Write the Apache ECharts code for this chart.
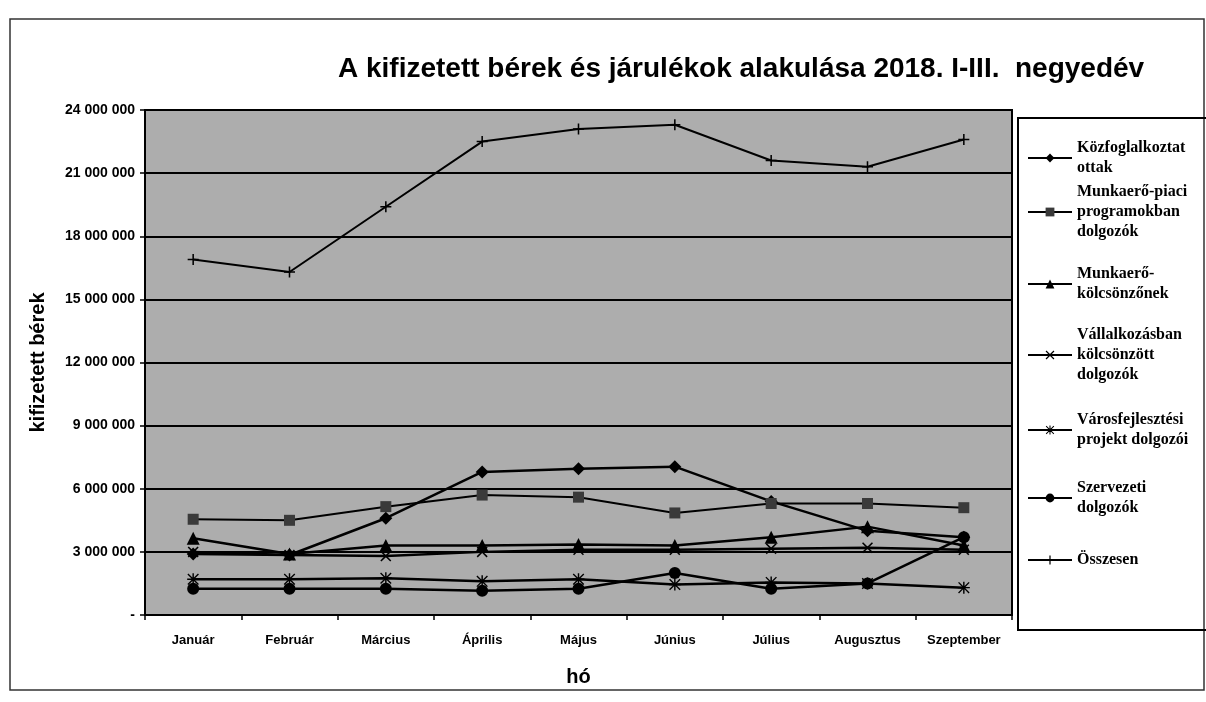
<!DOCTYPE html>
<html>
<head>
<meta charset="utf-8">
<title>Bérek és járulékok 2018</title>
<script src="https://cdn.jsdelivr.net/npm/echarts@6/dist/echarts.min.js"></script>
<style>
  html, body { margin: 0; padding: 0; background: #fff; }
  #chart { width: 1206px; height: 702px; }
</style>
</head>
<body>
<div id="chart"></div>
<script>
// --- adatok ---
const months = ['Január', 'Február', 'Március', 'Április', 'Május', 'Június', 'Július', 'Augusztus', 'Szeptember']

const kozfoglalkoztatottak = [2900000, 2850000, 4600000, 6800000, 6950000, 7050000, 5400000, 4000000, 3700000]
const munkaeroPiaci = [4550000, 4500000, 5150000, 5700000, 5600000, 4850000, 5300000, 5300000, 5100000]
const munkaeroKolcsonzonek = [3650000, 2900000, 3300000, 3300000, 3350000, 3300000, 3700000, 4200000, 3300000]
const vallalkozasban = [3000000, 2850000, 2800000, 3000000, 3100000, 3100000, 3150000, 3200000, 3100000]
const varosfejlesztesi = [1700000, 1700000, 1750000, 1600000, 1700000, 1450000, 1550000, 1500000, 1300000]
const szervezeti = [1250000, 1250000, 1250000, 1150000, 1250000, 2000000, 1250000, 1500000, 3700000]
const osszesen = [16900000, 16300000, 19400000, 22500000, 23100000, 23300000, 21600000, 21300000, 22600000]

const seriesNames = [
  'Közfoglalkoztatottak',
  'Munkaerő-piaci programokban dolgozók',
  'Munkaerő-kölcsönzőnek',
  'Vállalkozásban kölcsönzött dolgozók',
  'Városfejlesztési projekt dolgozói',
  'Szervezeti dolgozók',
  'Összesen'
]
const legendLabels = [
  'Közfoglalkoztat\nottak',
  'Munkaerő-piaci\nprogramokban\ndolgozók',
  'Munkaerő-\nkölcsönzőnek',
  'Vállalkozásban\nkölcsönzött\ndolgozók',
  'Városfejlesztési\nprojekt dolgozói',
  'Szervezeti\ndolgozók',
  'Összesen'
]
const seriesData = [kozfoglalkoztatottak, munkaeroPiaci, munkaeroKolcsonzonek, vallalkozasban, varosfejlesztesi, szervezeti, osszesen]

// --- jelölők ---
const xPath = 'path://M0,1 L1,0 L5,4 L9,0 L10,1 L6,5 L10,9 L9,10 L5,6 L1,10 L0,9 L4,5 Z'
const plusPath = 'path://M4.3,0 H5.7 V4.3 H10 V5.7 H5.7 V10 H4.3 V5.7 H0 V4.3 H4.3 Z'
const starPath = 'path://M4.4,0 H5.6 V4.4 H10 V5.6 H5.6 V10 H4.4 V5.6 H0 V4.4 H4.4 Z M1,0.2 L5,4.2 L9,0.2 L9.8,1 L5.8,5 L9.8,9 L9,9.8 L5,5.8 L1,9.8 L0.2,9 L4.2,5 L0.2,1 Z'
const symbols = ['diamond', 'rect', 'triangle', xPath, starPath, 'circle', plusPath]
const symbolSizes = [13, 11, 13, 11, 12, 12, 11]
const symbolColors = ['#000', '#3a3a3a', '#000', '#000', '#000', '#000', '#000']
const lineWidths = [2.5, 2, 2.5, 2.5, 2.5, 2.5, 2]

// jelmagyarázat ikonjainak függőleges helye
const legendIconY = [158, 212, 284, 355, 430, 498, 560]
const lh = 20

const fmt = v => v === 0 ? '-' : String(v).replace(/\B(?=(\d{3})+(?!\d))/g, ' ')

const chart = echarts.init(document.getElementById('chart'))

const option = {
  backgroundColor: '#fff',
  animation: false,
  title: {
    text: 'A kifizetett bérek és járulékok alakulása 2018. I-III.  negyedév',
    left: 333,
    top: 50,
    textStyle: {
      fontFamily: 'Liberation Sans, Arial',
      fontWeight: 'bold',
      fontSize: 28,
      color: '#000'
    }
  },
  legend: seriesNames.map((name, i) => {
    const lines = legendLabels[i].split('\n').length
    return {
      data: [name],
      left: 1027,
      top: legendIconY[i] - ((2 * lines - 1) * lh) / 2,
      padding: 0,
      itemWidth: 44,
      itemHeight: 11,
      itemGap: 0,
      selectedMode: false,
      formatter: () => legendLabels[i],
      textStyle: {
        fontFamily: 'Liberation Serif, serif',
        fontWeight: 'bold',
        fontSize: 16,
        color: '#000',
        lineHeight: lh,
        padding: [(lines - 1) * lh, 0, 0, 0]
      }
    }
  }),
  grid: {
    left: 145,
    top: 110,
    width: 867,
    height: 505,
    show: true,
    backgroundColor: '#adadad',
    borderColor: '#000',
    borderWidth: 2,
    outerBoundsMode: 'none'
  },
  xAxis: {
    type: 'category',
    data: months,
    name: 'hó',
    nameLocation: 'middle',
    nameGap: 52,
    nameTextStyle: { fontFamily: 'Liberation Sans, Arial', fontWeight: 'bold', fontSize: 20, color: '#000' },
    axisLine: { show: true, lineStyle: { color: '#000', width: 2 } },
    axisTick: { show: true, length: 5, lineStyle: { color: '#000', width: 1.5 } },
    axisLabel: {
      color: '#000',
      fontFamily: 'Liberation Sans, Arial',
      fontWeight: 'bold',
      fontSize: 13,
      margin: 19,
      interval: 0
    },
    splitLine: { show: false }
  },
  yAxis: {
    type: 'value',
    min: 0,
    max: 24000000,
    interval: 3000000,
    name: 'kifizetett bérek',
    nameLocation: 'middle',
    nameRotate: 90,
    nameGap: 97,
    nameTextStyle: { fontFamily: 'Liberation Sans, Arial', fontWeight: 'bold', fontSize: 20, color: '#000' },
    axisLine: { show: true, lineStyle: { color: '#000', width: 2 } },
    axisTick: { show: true, length: 5, lineStyle: { color: '#000', width: 1.5 } },
    axisLabel: {
      color: '#000',
      fontFamily: 'Liberation Sans, Arial',
      fontWeight: 'bold',
      fontSize: 14,
      margin: 10,
      formatter: fmt
    },
    splitLine: { show: true, lineStyle: { color: '#000', width: 2 } }
  },
  graphic: [
    {
      type: 'rect',
      shape: { x: 10, y: 19, width: 1194, height: 671 },
      style: { fill: 'none', stroke: '#333', lineWidth: 1.5 },
      silent: true
    },
    {
      type: 'rect',
      shape: { x: 1018, y: 118, width: 200, height: 512 },
      style: { fill: 'none', stroke: '#000', lineWidth: 2 },
      silent: true
    }
  ],
  series: seriesNames.map((name, i) => ({
    name: name,
    type: 'line',
    data: seriesData[i],
    symbol: symbols[i],
    symbolSize: symbolSizes[i],
    showAllSymbol: true,
    lineStyle: { color: '#000', width: lineWidths[i] },
    itemStyle: { color: symbolColors[i], borderColor: symbolColors[i], borderWidth: 0 }
  }))
}

chart.setOption(option)
</script>
</body>
</html>
